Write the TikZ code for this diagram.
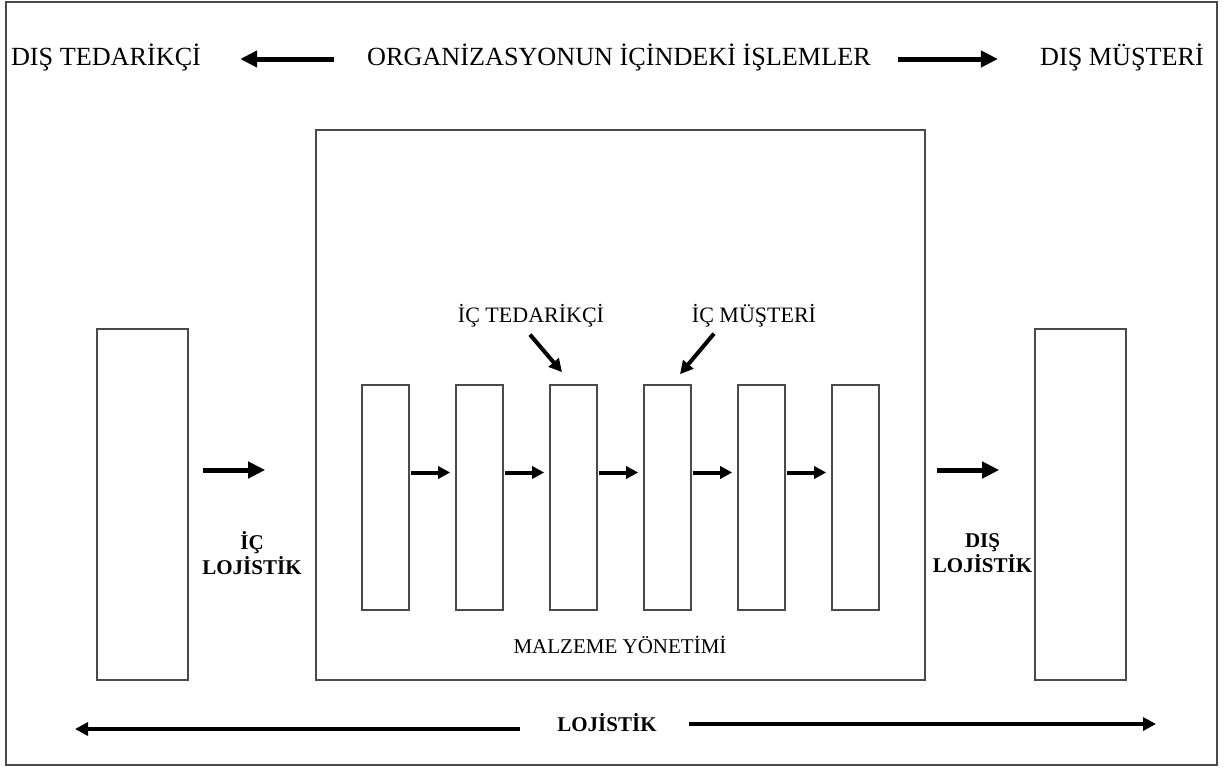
\documentclass[tikz,border=0pt]{standalone}
\usepackage{fontspec}
\setmainfont{Liberation Serif}
\usetikzlibrary{arrows.meta}
\definecolor{frame}{HTML}{4A4A4A}
\tikzset{
  box/.style={draw=frame, line width=1.6pt, fill=white, inner sep=0pt},
  title/.style={font=\fontsize{26.2}{29}\selectfont, inner sep=0pt, text height=17pt, text depth=5pt},
  sublabel/.style={font=\fontsize{22}{26}\selectfont, inner sep=0pt},
  boldlabel/.style={font=\fontsize{21}{25}\selectfont\bfseries, align=center, inner sep=0pt},
  bigarrow/.style={line width=5pt, -{Triangle[length=17pt,width=16pt]}},
  smallarrow/.style={line width=4pt, -{Triangle[length=12pt,width=12pt]}},
  diagarrow/.style={line width=4pt, -{Triangle[length=13pt,width=13pt]}},
  longarrow/.style={line width=4pt, -{Triangle[length=13pt,width=13pt]}},
}
\begin{document}
\begin{tikzpicture}[x=1pt,y=-1pt]
  \useasboundingbox (0,0) rectangle (1224,769);
  % outer frame
  \draw[frame, line width=2pt] (6,2) rectangle (1217,765);

  % headline
  \node[title, anchor=base] (ted) at (106,65) {DIŞ TEDARİKÇİ};
  \node[title, anchor=base] (org) at (619,65) {ORGANİZASYONUN İÇİNDEKİ İŞLEMLER};
  \node[title, anchor=base] (mus) at (1122,65) {DIŞ MÜŞTERİ};
  \draw[bigarrow, shorten <=33pt, shorten >=39pt] (org.west) -- (ted.east);
  \draw[bigarrow, shorten <=27pt, shorten >=42pt] (org.east) -- (mus.west);

  % main boxes
  \node[box, minimum width=609pt, minimum height=550pt] (mgmt) at (620.5,405) {};
  \node[box, minimum width=91pt, minimum height=351pt] (L) at (142.5,504.5) {};
  \node[box, minimum width=91pt, minimum height=351pt] (R) at (1080.5,504.5) {};

  % process steps inside materials management
  \foreach \i in {1,...,6} {
    \node[box, minimum width=47pt, minimum height=225pt] (b\i) at ({385.5+94*(\i-1)},497.5) {};
  }
  \foreach \i/\j in {1/2,2/3,3/4,4/5,5/6} {
    \draw[smallarrow, shorten <=1pt, shorten >=5pt] ([yshift=25pt]b\i.east) -- ([yshift=25pt]b\j.west);
  }

  % internal supplier / customer
  \node[sublabel] (sup) at (531,316) {İÇ TEDARİKÇİ};
  \node[sublabel] (cus) at (754,316) {İÇ MÜŞTERİ};
  \draw[diagarrow] ([xshift=-1pt,yshift=-7pt]sup.south) -- ([xshift=-11.5pt,yshift=12pt]b3.north);
  \draw[diagarrow] ([xshift=-40pt,yshift=-6pt]cus.south) -- ([xshift=12.5pt,yshift=10pt]b4.north);

  % inbound / outbound logistics
  \draw[bigarrow, shorten <=14pt, shorten >=50pt] ([yshift=34.5pt]L.east) -- ([yshift=34.5pt]L.east -| mgmt.west);
  \draw[bigarrow, shorten <=11pt, shorten >=35pt] ([yshift=34.5pt]R.west -| mgmt.east) -- ([yshift=34.5pt]R.west);
  \node[boldlabel] (inlog) at (252,553.5) {İÇ\\LOJİSTİK};
  \node[boldlabel] (outlog) at (982.5,553.5) {DIŞ\\LOJİSTİK};

  \node[font=\fontsize{21}{24}\selectfont, inner sep=0pt] (mat) at (620,645) {MALZEME YÖNETİMİ};

  % logistics span
  \node[boldlabel] (logi) at (607,723) {LOJİSTİK};
  \coordinate (lend) at (75,729);
  \coordinate (rend) at (1156,724);
  \draw[longarrow, shorten <=37pt] (logi.west |- lend) -- (lend);
  \draw[longarrow, shorten <=32pt] (logi.east |- rend) -- (rend);
\end{tikzpicture}
\end{document}
